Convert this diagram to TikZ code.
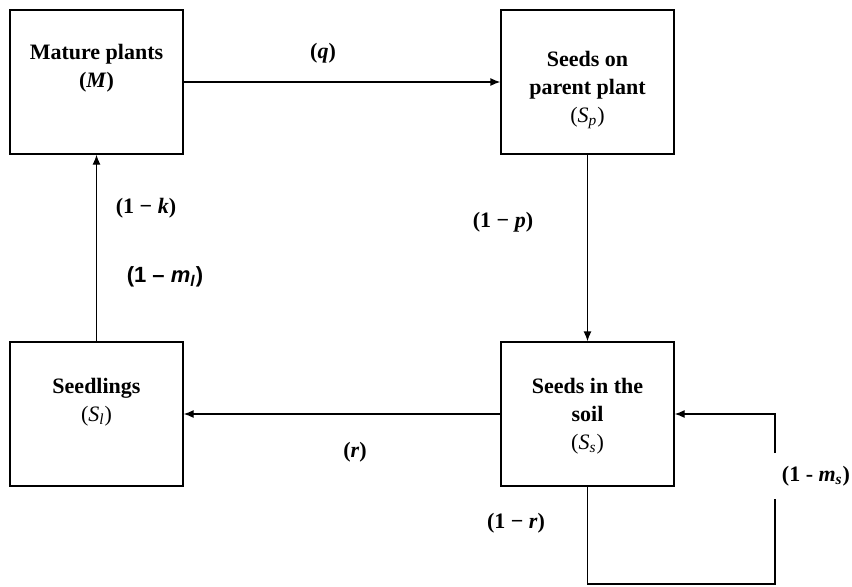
\documentclass[tikz,border=0pt]{standalone}
\usepackage{fontspec}
\setmainfont{Liberation Serif}
\newfontfamily\sanslabel{Liberation Sans}
\usetikzlibrary{arrows.meta}
\begin{document}
\begin{tikzpicture}[x=0.5pt,y=-0.5pt,
    box/.style={draw,line width=0.65pt,minimum width=86.5pt,minimum height=72pt,inner sep=0pt},
    boxtext/.style={align=center,font=\fontsize{11}{14}\selectfont\bfseries},
    rate/.style={font=\fontsize{11}{13}\selectfont\bfseries,inner sep=1pt},
    flow/.style={line width=0.65pt,-{Latex[length=5pt,width=4pt]}}]
  \useasboundingbox (0,0) rectangle (852,586);

  % Drawing the four boxes
  \node [box] (M)  at (96.5,82)  {};
  \node [box] (Sp) at (587.5,82) {};
  \node [box] (Ss) at (587.5,414) {};
  \node [box] (Sl) at (96.5,414) {};

  % Box texts
  \node [boxtext] (tM)  at ([yshift=7pt]M.center)   {Mature plants\\(\textit{M})};
  \node [boxtext] (tSp) at ([yshift=-4pt]Sp.center) {Seeds on\\parent plant\\{\mdseries(\textit{S}\textsubscript{\textit{p}})}};
  \node [boxtext] (tSs) at ([yshift=-1pt]Ss.center) {Seeds in the\\soil\\{\mdseries(\textit{S}\textsubscript{\textit{s}})}};
  \node [boxtext] (tSl) at ([yshift=6pt]Sl.center)  {Seedlings\\{\mdseries(\textit{S}\textsubscript{\textit{l}})}};

  % Drawing the transitions
  \draw [flow] (M.east) -- (Sp.west);
  \draw [flow] (Sp.south) -- (Ss.north);
  \draw [flow] (Ss.west) -- (Sl.east);
  \draw [flow] (Sl.north) -- (M.south);

  % Seeds staying in the soil
  \coordinate (loopc) at (775,584);
  \node [rate,minimum height=22.5pt] (ms) at (816,476) {(1 - \textit{m}\textsubscript{\textit{s}})};
  \draw [line width=0.65pt] (Ss.south) |- (loopc) -- (ms.south -| loopc);
  \draw [flow] (ms.north -| loopc) |- (Ss.east);

  % Rate labels
  \node [rate] (q)  at (323,53)  {(\textit{q})};
  \node [rate] (p)  at (503,222) {(1 − \textit{p})};
  \node [rate] (r)  at (355,452) {(\textit{r})};
  \node [rate] (nr) at (516,523) {(1 − \textit{r})};
  \node [rate] (k)  at (146,208) {(1 − \textit{k})};
  \node [rate,font=\fontsize{11}{13}\sanslabel\bfseries] (ml) at (165,277) {(1 – \textit{m}\textsubscript{\textit{l}})};
\end{tikzpicture}
\end{document}
